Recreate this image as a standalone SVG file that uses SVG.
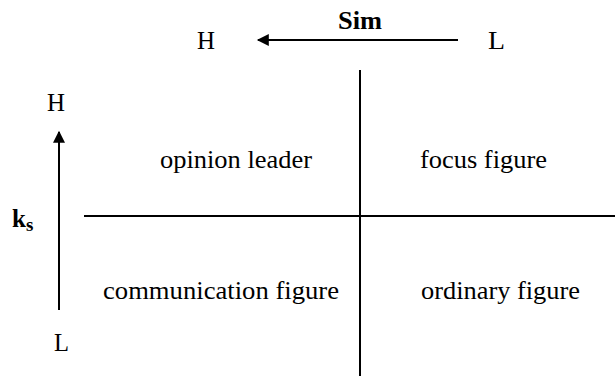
<svg xmlns="http://www.w3.org/2000/svg" width="615" height="376" viewBox="0 0 615 376">
<style>
text{font-family:"Liberation Serif","Times New Roman",serif;font-size:25px;fill:#000}
.q{font-size:25px}
.b{font-weight:bold}
.l{stroke:#000;stroke-width:2;fill:none}
</style>
<defs>
<marker id="ah" viewBox="0 0 10 10" refX="9" refY="5" markerWidth="13" markerHeight="12" markerUnits="userSpaceOnUse" orient="auto"><path d="M0,0L10,5L0,10z" fill="#000"/></marker>
</defs>
<rect width="615" height="376" fill="#fff"/>
<g id="connectors">
<line class="l" x1="360" y1="70" x2="360" y2="376"/>
<line class="l" x1="84" y1="216" x2="615" y2="216"/>
<line class="l" x1="458" y1="40" x2="258" y2="40" marker-end="url(#ah)"/>
<line class="l" x1="59" y1="310" x2="59" y2="132" marker-end="url(#ah)"/>
</g>
<g id="sim-axis">
<text x="338" y="29" class="b" textLength="44" lengthAdjust="spacingAndGlyphs">Sim</text>
<text x="197" y="49" textLength="18" lengthAdjust="spacingAndGlyphs">H</text>
<text x="488" y="49" textLength="17" lengthAdjust="spacingAndGlyphs">L</text>
</g>
<g id="ks-axis">
<text x="47" y="111" textLength="18" lengthAdjust="spacingAndGlyphs">H</text>
<text x="12" y="227" class="b" font-size="26">k<tspan font-size="19" dy="4">s</tspan></text>
<text x="54" y="351" textLength="15" lengthAdjust="spacingAndGlyphs">L</text>
</g>
<g id="opinion-leader"><text class="q" x="160" y="168" textLength="152" lengthAdjust="spacingAndGlyphs">opinion leader</text></g>
<g id="focus-figure"><text class="q" x="420" y="168" textLength="127" lengthAdjust="spacingAndGlyphs">focus figure</text></g>
<g id="communication-figure"><text class="q" x="103" y="299" textLength="236" lengthAdjust="spacingAndGlyphs">communication figure</text></g>
<g id="ordinary-figure"><text class="q" x="421" y="299" textLength="159" lengthAdjust="spacingAndGlyphs">ordinary figure</text></g>
</svg>
